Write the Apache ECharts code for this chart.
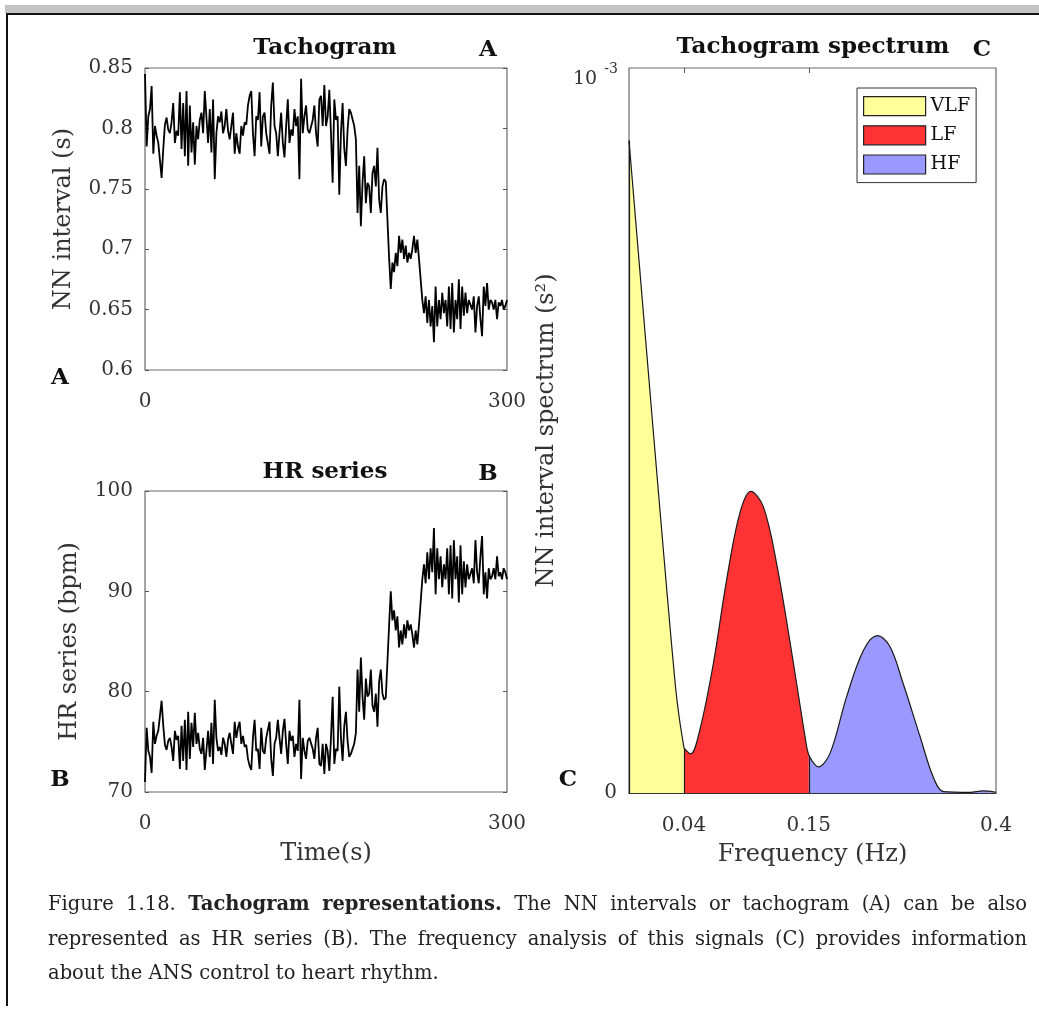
<!DOCTYPE html>
<html><head><meta charset="utf-8">
<script src="https://cdn.jsdelivr.net/npm/echarts@6/dist/echarts.min.js"></script>
<style>html,body{margin:0;padding:0;background:#fff}#c{width:1039px;height:1012px}</style>
</head><body><div id="c"></div>
<script>
// ---- Panel A: NN intervals (s), evenly sampled over 0..300 s ----
const nnValues = [
0.845,0.785,0.810,0.816,0.835,0.779,0.802,0.794,0.788,0.788,
0.759,0.783,0.803,0.809,0.799,0.796,0.805,0.821,0.788,0.798,
0.794,0.830,0.783,0.821,0.777,0.831,0.769,0.819,0.780,0.805,
0.770,0.802,0.791,0.807,0.813,0.796,0.831,0.830,0.788,0.816,
0.780,0.824,0.758,0.796,0.810,0.805,0.814,0.796,0.802,0.816,
0.798,0.791,0.802,0.813,0.779,0.796,0.785,0.779,0.802,0.794,
0.805,0.803,0.819,0.827,0.831,0.796,0.777,0.810,0.807,0.830,
0.785,0.810,0.813,0.796,
0.796,0.779,0.819,0.838,0.802,0.796,0.777,0.796,0.813,0.788,
0.776,0.802,0.824,0.788,0.799,0.794,0.816,0.802,0.810,0.758,
0.841,0.796,0.810,0.819,0.799,0.796,0.796,0.807,0.819,0.796,
0.785,0.824,0.827,0.802,0.836,0.802,0.810,0.832,0.796,0.755,
0.824,0.807,0.810,0.745,0.796,0.821,0.783,0.769,0.799,0.816,
0.813,0.813,0.802,0.791,0.730,0.769,0.719,0.755,0.777,0.738,
0.755,0.752,0.730,0.763,0.769,0.752,0.784,0.741,0.730,0.752,
0.758,0.756,0.757,
0.693,0.667,0.689,0.681,0.697,0.686,0.711,0.697,0.708,0.692,
0.703,0.689,0.697,0.692,0.700,0.711,0.697,0.708,0.692,0.675,
0.658,0.647,0.661,0.639,0.658,0.636,0.653,0.623,0.669,0.636,
0.658,0.642,0.664,0.647,0.658,0.636,0.669,0.634,0.672,0.631,
0.658,0.642,0.675,0.634,0.669,0.645,0.664,0.647,0.658,0.658,
0.650,0.661,0.631,0.653,0.661,0.642,0.628,0.669,0.653,0.672,
0.650,0.658,0.656,0.650,0.658,0.642,0.656,0.653,0.658,0.650,
0.653,0.658
];
// ---- Panel B: HR series (bpm) ----
const hrValues = [
71.0,76.4,74.1,73.5,71.9,77.0,74.8,75.6,76.1,76.1,
79.1,76.6,74.7,74.2,75.1,75.4,74.5,73.1,76.1,75.2,
75.6,72.3,76.6,73.1,77.2,72.2,78.0,73.3,76.9,74.5,
77.9,74.8,75.9,74.3,73.8,75.4,72.2,72.3,76.1,73.5,
76.9,72.8,79.2,75.4,74.1,74.5,73.7,75.4,74.8,73.5,
75.2,75.9,74.8,73.8,77.0,75.4,76.4,77.0,74.8,75.6,
74.5,74.7,73.3,72.6,72.2,75.4,77.2,74.1,74.3,72.3,
76.4,74.1,73.8,75.4,
75.4,77.0,73.3,71.6,74.8,75.4,77.2,75.4,73.8,76.1,
77.3,74.8,72.8,76.1,75.1,75.6,73.5,74.8,74.1,79.2,
71.3,75.4,74.1,73.3,75.1,75.4,75.4,74.3,73.3,75.4,
76.4,72.8,72.6,74.8,71.8,74.8,74.1,72.1,75.4,79.5,
72.8,74.3,74.1,80.5,75.4,73.1,76.6,78.0,75.1,73.5,
73.8,73.8,74.8,75.9,82.2,78.0,83.4,79.5,77.2,81.3,
79.5,79.8,82.2,78.6,78.0,79.8,76.5,81.0,82.2,79.8,
79.2,79.4,79.3,
86.6,90.0,87.1,88.1,86.1,87.5,84.4,86.1,84.7,86.7,
85.3,87.1,86.1,86.7,85.7,84.4,86.1,84.7,86.7,88.9,
91.2,92.7,90.8,93.9,91.2,94.3,91.9,96.3,89.7,94.3,
91.2,93.5,90.4,92.7,91.2,94.3,89.7,94.6,89.3,95.1,
91.2,93.5,88.9,94.6,89.7,93.0,90.4,92.7,91.2,91.2,
92.3,90.8,95.1,91.9,90.8,93.5,95.5,89.7,91.9,89.3,
92.3,91.2,91.5,92.3,91.2,93.5,91.5,91.9,91.2,92.3,
91.9,91.2
];
const timeStart = 0, timeEnd = 300;
const timeTicks = [0, 300];
const nnTicks = [0.6, 0.65, 0.7, 0.75, 0.8, 0.85];
const hrTicks = [70, 80, 90, 100];

// ---- Panel C: spectrum (x = position along the frequency axis, 0..100; y in 1e-3 s^2) ----
const specVLF = [[0,0.90],[6.6,0.50],[10.3,0.28],[12.6,0.15],[13.8,0.10],[15,0.062]];
const specLF  = [[15,0.062],[16.8,0.054],[19.3,0.087],[23.0,0.179],[26.6,0.294],[30.2,0.386],[33.2,0.416],[36.6,0.395],[40.2,0.317],[44.8,0.179],[48.4,0.064],[49,0.052]];
const specHF  = [[49,0.052],[51.6,0.036],[54.8,0.055],[59.3,0.133],[63.9,0.197],[67.7,0.217],[71.1,0.202],[74.7,0.151],[79.3,0.078],[82.9,0.022],[85.7,0.002],[92.9,0.001],[96.5,0.003],[100,0.001]];
const bandNames = ['VLF', 'LF', 'HF'];
const bandColors = ['#ffff99', '#ff3333', '#9999ff'];
const freqTickPos = [15, 49, 100];
const freqTickLabels = ['0.04', '0.15', '0.4'];
const specYTicks = [0];

// ---- Caption ----
const captionLines = [
  'Figure 1.18. **Tachogram representations.** The NN intervals or tachogram (A) can be also',
  'represented as HR series (B). The frequency analysis of this signals (C) provides information',
  'about the ANS control to heart rhythm.'
];
const captionJustify = [true, true, false];

const SERIF = '"DejaVu Serif", "Liberation Serif", serif';
const step = (timeEnd - timeStart) / (nnValues.length - 1);
const nnData = nnValues.map((v, i) => [timeStart + i * step, v]);
const hrData = hrValues.map((v, i) => [timeStart + i * step, v]);

const chart = echarts.init(document.getElementById('c'), null, {renderer: 'canvas'});
const gridBox = {show: true, borderColor: '#6a6a6a', borderWidth: 1.2, backgroundColor: 'rgba(0,0,0,0)'};
const tickLabel = {fontFamily: SERIF, fontSize: 20, color: '#333'};
const nameStyle = {fontFamily: SERIF, fontSize: 24, color: '#333'};
const noLine = {show: false};

function yLeft(grid, min, max, ticks, fmt, name, gap) {
  return {gridIndex: grid, type: 'value', min: min, max: max, position: 'left',
    axisLine: noLine, splitLine: noLine,
    axisTick: {show: true, inside: true, length: 4, customValues: ticks, lineStyle: {color: '#555'}},
    axisLabel: Object.assign({customValues: ticks, formatter: fmt, margin: 12, padding: [12, 0, 0, 0]}, tickLabel),
    name: name, nameLocation: 'middle', nameGap: gap, nameTextStyle: nameStyle};
}
function yRight(grid, min, max, ticks) {
  return {gridIndex: grid, type: 'value', min: min, max: max, position: 'right',
    axisLine: noLine, splitLine: noLine, axisLabel: noLine,
    axisTick: {show: true, inside: true, length: 4, customValues: ticks, lineStyle: {color: '#555'}}};
}
function xTime(grid, name) {
  return {gridIndex: grid, type: 'value', min: timeStart, max: timeEnd,
    axisLine: noLine, splitLine: noLine, axisTick: noLine,
    axisLabel: Object.assign({customValues: timeTicks, margin: 22}, tickLabel),
    name: name, nameLocation: 'middle', nameGap: 50, nameTextStyle: nameStyle};
}

function bandSeries(idx, data, smooth) {
  return {
    name: bandNames[idx], type: 'line', xAxisIndex: 2, yAxisIndex: 4,
    data: data, smooth: smooth, showSymbol: false, symbol: 'none',
    color: bandColors[idx],
    itemStyle: {color: bandColors[idx], borderColor: '#222', borderWidth: 1.2},
    lineStyle: {color: '#1a1a1a', width: 1.2},
    areaStyle: {color: bandColors[idx], opacity: 1},
    markLine: {silent: true, symbol: ['none', 'none'], label: {show: false},
      lineStyle: {type: 'solid', color: '#1a1a1a', width: 1.2},
      data: [[{coord: [data[0][0], 0]}, {coord: [data[0][0], data[0][1]]}]]},
    z: 2, animation: false
  };
}

function txt(x, y, text, font, fill, align) {
  return {type: 'text', x: x, y: y, silent: true,
    style: {text: text, font: font, fill: fill || '#111', align: align || 'center', verticalAlign: 'middle'}};
}

// justified caption, one text element per word
const capSize = 19.5, capLeft = 48, capRight = 1027, capTop = 905, capLead = 34.5;
const mctx = document.createElement('canvas').getContext('2d');
function capFont(bold) { return (bold ? 'bold ' : '') + capSize + 'px ' + SERIF; }
function measure(w, bold) { mctx.font = capFont(bold); return mctx.measureText(w).width; }
const captionEls = [];
let boldState = false;
captionLines.forEach((line, li) => {
  const words = line.split(' ').map(raw => {
    let t = raw, b = boldState;
    if (t.startsWith('**')) { t = t.slice(2); b = true; boldState = true; }
    if (t.endsWith('**')) { t = t.slice(0, -2); boldState = false; }
    return {t: t, b: b, w: measure(t, b)};
  });
  const total = words.reduce((s, w) => s + w.w, 0);
  const natural = measure(' ', false);
  const gap = captionJustify[li] ? Math.max(natural, (capRight - capLeft - total) / (words.length - 1)) : natural;
  let x = capLeft;
  words.forEach(w => {
    captionEls.push({type: 'text', x: x, y: capTop + li * capLead, silent: true,
      style: {text: w.t, font: capFont(w.b), fill: '#222', align: 'left', verticalAlign: 'middle'}});
    x += w.w + gap;
  });
});

chart.setOption({
  animation: false,
  backgroundColor: '#fff',
  grid: [
    Object.assign({left: 145, top: 68, width: 362, height: 302}, gridBox),
    Object.assign({left: 145, top: 491, width: 362, height: 301}, gridBox),
    Object.assign({left: 629, top: 68, width: 367, height: 725}, gridBox)
  ],
  xAxis: [
    xTime(0, ''),
    xTime(1, 'Time(s)'),
    {gridIndex: 2, type: 'value', min: 0, max: 100, z: 5,
      axisLine: {show: true, lineStyle: {color: '#333', width: 1.2}}, splitLine: noLine, axisTick: noLine,
      axisLabel: Object.assign({customValues: freqTickPos, formatter: v => freqTickLabels[freqTickPos.indexOf(v)], margin: 23}, tickLabel),
      name: 'Frequency (Hz)', nameLocation: 'middle', nameGap: 50, nameTextStyle: nameStyle},
    {gridIndex: 2, type: 'value', min: 0, max: 100, position: 'top',
      axisLine: noLine, splitLine: noLine, axisLabel: noLine,
      axisTick: {show: true, inside: true, length: 5, customValues: freqTickPos.slice(0, 2), lineStyle: {color: '#555'}}}
  ],
  yAxis: [
    yLeft(0, 0.6, 0.85, nnTicks, v => String(+v.toFixed(2)), 'NN interval (s)', 69),
    yRight(0, 0.6, 0.85, nnTicks),
    yLeft(1, 70, 100, hrTicks, v => String(v), 'HR series (bpm)', 63),
    yRight(1, 70, 100, hrTicks),
    Object.assign(yLeft(2, 0, 1, specYTicks, v => String(v), 'NN interval spectrum (s\u00B2)', 70),
      {axisTick: noLine})
  ],
  legend: {
    left: 857, top: 88, orient: 'vertical', data: bandNames, icon: 'rect',
    itemWidth: 62, itemHeight: 19, itemGap: 9, padding: [8, 6, 8, 6],
    borderColor: '#333', borderWidth: 1, backgroundColor: '#fff',
    itemStyle: {borderColor: '#222', borderWidth: 1.2},
    textStyle: {fontFamily: SERIF, fontSize: 19, color: '#111', lineHeight: 19},
    selectedMode: false
  },
  series: [
    {type: 'line', xAxisIndex: 0, yAxisIndex: 0, data: nnData, showSymbol: false, symbol: 'none',
      lineStyle: {color: '#000', width: 1.8}, animation: false},
    {type: 'line', xAxisIndex: 1, yAxisIndex: 2, data: hrData, showSymbol: false, symbol: 'none',
      lineStyle: {color: '#000', width: 1.8}, animation: false},
    bandSeries(0, specVLF, 0.3),
    bandSeries(1, specLF, 0.35),
    bandSeries(2, specHF, 0.35)
  ],
  graphic: [
    {type: 'rect', silent: true, shape: {x: 5, y: 5, width: 1034, height: 8}, style: {fill: '#c4c4c4'}},
    {type: 'line', silent: true, shape: {x1: 6, y1: 14, x2: 1039, y2: 14}, style: {stroke: '#111', lineWidth: 2}},
    {type: 'line', silent: true, shape: {x1: 7, y1: 13, x2: 7, y2: 1006}, style: {stroke: '#111', lineWidth: 2}},
    txt(325, 48, 'Tachogram', 'bold 23px ' + SERIF),
    txt(488, 50, 'A', 'bold 23px ' + SERIF),
    txt(60, 378, 'A', 'bold 23px ' + SERIF),
    txt(325, 472, 'HR series', 'bold 23px ' + SERIF),
    txt(488, 474, 'B', 'bold 23px ' + SERIF),
    txt(60, 780, 'B', 'bold 23px ' + SERIF),
    txt(813, 47, 'Tachogram spectrum', 'bold 23px ' + SERIF),
    txt(982, 50, 'C', 'bold 23px ' + SERIF),
    txt(568, 780, 'C', 'bold 23px ' + SERIF),
    txt(585, 79, '10', '19px ' + SERIF, '#333'),
    txt(611, 69, '-3', '14px ' + SERIF, '#333')
  ].concat(captionEls)
});
</script>
</body></html>
